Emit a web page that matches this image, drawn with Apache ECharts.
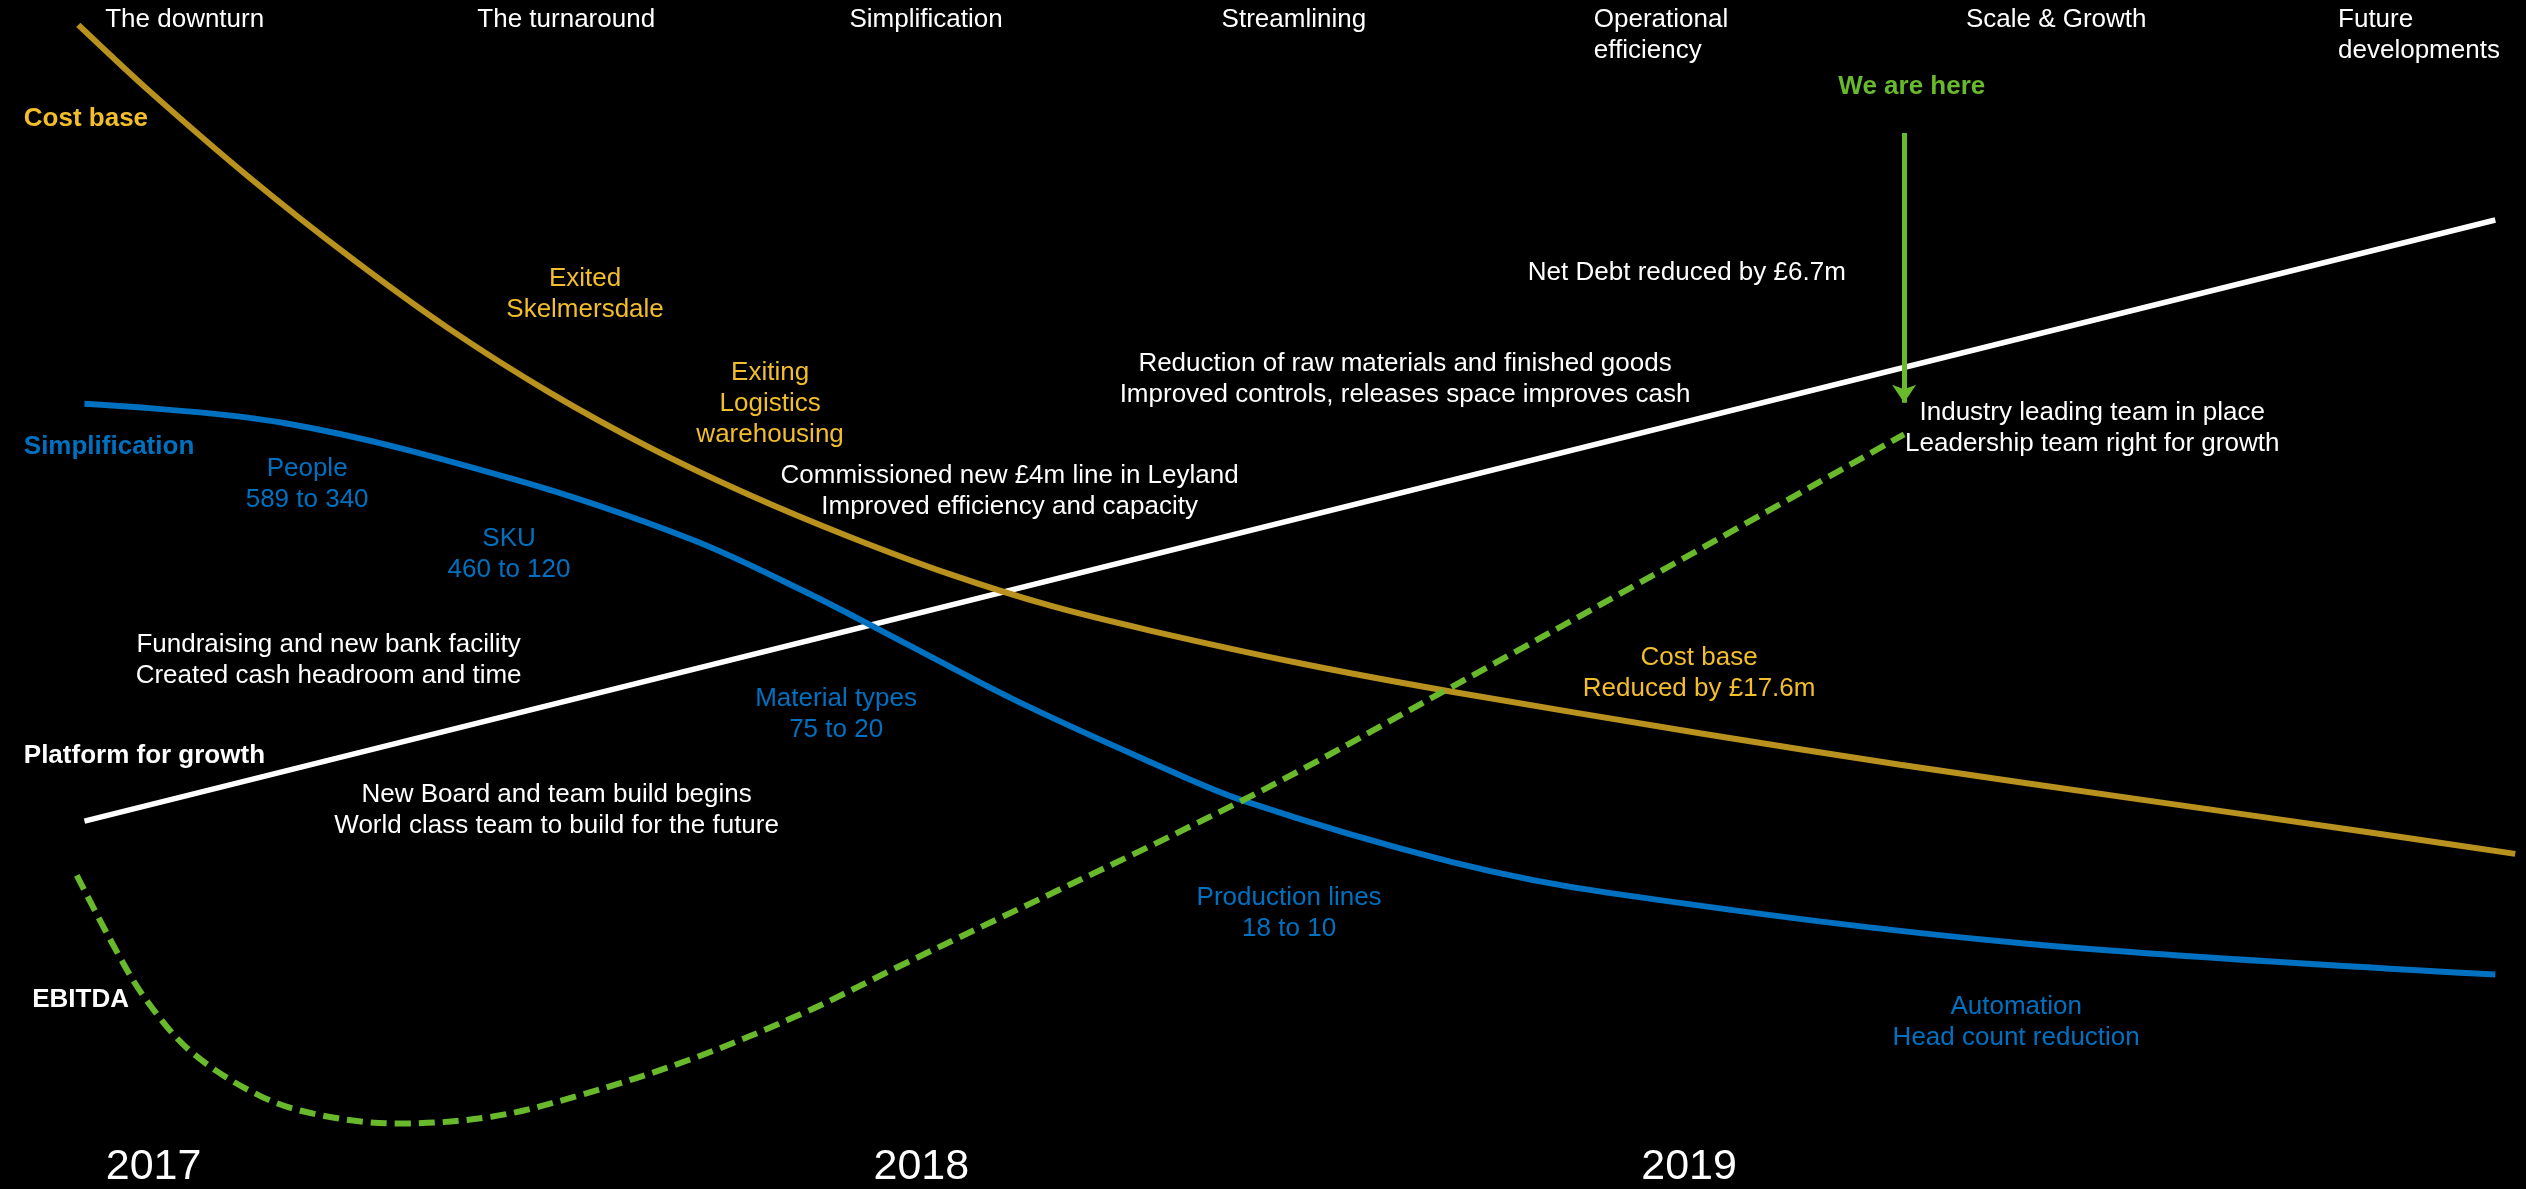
<!DOCTYPE html>
<html>
<head>
<meta charset="utf-8">
<title>Transformation journey</title>
<script src="https://cdn.jsdelivr.net/npm/echarts@6/dist/echarts.min.js"></script>
<style>
  html, body { margin: 0; padding: 0; background: #000; }
  #chart { width: 2526px; height: 1189px; }
</style>
</head>
<body>
<div id="chart"></div>
<script>
// Timeline: x in fractional years, y on a relative 0-100 index
const years = [2017, 2018, 2019];
const phases = ['The downturn', 'The turnaround', 'Simplification', 'Streamlining',
  'Operational\nefficiency', 'Scale & Growth', 'Future\ndevelopments'];

const costBase = [[2016.902, 97.8], [2016.995, 91.9], [2017.126, 84.2], [2017.256, 77.2],
  [2017.386, 70.8], [2017.516, 65.2], [2017.647, 60.3], [2017.777, 56.1], [2017.907, 52.4],
  [2018.037, 49.1], [2018.168, 46.3], [2018.298, 44.1], [2018.493, 41.2], [2018.689, 38.7],
  [2019.014, 35.0], [2019.275, 32.2], [2019.600, 29.0], [2019.887, 26.2], [2020.076, 24.3]];

const simplification = [[2016.91, 64.2], [2017.17, 62.5], [2017.47, 57.5], [2017.70, 52.2],
  [2017.85, 47.5], [2017.97, 43.3], [2018.12, 38.0], [2018.29, 32.7], [2018.42, 29.0],
  [2018.69, 23.6], [2018.90, 20.8], [2019.43, 16.4], [2020.05, 13.6]];

const platform = [[2016.91, 27.2], [2020.05, 80.5]];

const ebitda = [[2016.90, 22.4], [2016.95, 15.9], [2016.99, 11.4], [2017.05, 6.7],
  [2017.14, 2.8], [2017.22, 1.1], [2017.32, 0.4], [2017.44, 1.0], [2017.55, 2.8],
  [2017.70, 6.1], [2017.85, 10.3], [2017.97, 14.3], [2018.42, 29.1], [2018.68, 38.7],
  [2018.99, 50.4], [2019.28, 61.5]];

// "We are here" marker: time and the span of the arrow on the index scale
const nowYear = 2019.28;
const nowArrow = [88.2, 64.3];

// Colours
const GOLD_LINE = '#B8911E';
const GOLD_TEXT = '#F2BE2C';
const BLUE = '#0070C0';
const GREEN = '#69B92D';
const WHITE = '#FFFFFF';
const FONT = '"Liberation Sans", Arial, sans-serif';

// Phase headings sit on a top axis, evenly spaced
const phaseStart = 2016.937;
const phaseStep = 0.4847;
const phaseTicks = phases.map((_, i) => +(phaseStart + i * phaseStep).toFixed(4));

// Text notes placed in chart coordinates
const notes = [
  { text: 'Cost base', at: [2016.831, 89.5], color: GOLD_TEXT, bold: true, align: 'left' },
  { text: 'Simplification', at: [2016.831, 60.4], color: BLUE, bold: true, align: 'left' },
  { text: 'Platform for growth', at: [2016.831, 33.0], color: WHITE, bold: true, align: 'left' },
  { text: 'EBITDA', at: [2016.842, 11.4], color: WHITE, bold: true, align: 'left' },
  { text: 'We are here', at: [2019.29, 92.3], color: GREEN, bold: true },
  { text: 'Exited\nSkelmersdale', at: [2017.562, 73.9], color: GOLD_TEXT },
  { text: 'Exiting\nLogistics\nwarehousing', at: [2017.803, 64.2], color: GOLD_TEXT },
  { text: 'Commissioned new £4m line in Leyland\nImproved efficiency and capacity', at: [2018.115, 56.4], color: WHITE },
  { text: 'Reduction of raw materials and finished goods\nImproved controls, releases space improves cash', at: [2018.63, 66.4], color: WHITE },
  { text: 'Net Debt reduced by £6.7m', at: [2018.997, 75.8], color: WHITE },
  { text: 'Industry leading team in place\nLeadership team right for growth', at: [2019.525, 62.0], color: WHITE },
  { text: 'People\n589 to 340', at: [2017.20, 57.1], color: BLUE },
  { text: 'SKU\n460 to 120', at: [2017.463, 50.9], color: BLUE },
  { text: 'Fundraising and new bank facility\nCreated cash headroom and time', at: [2017.228, 41.5], color: WHITE },
  { text: 'Material types\n75 to 20', at: [2017.889, 36.7], color: BLUE },
  { text: 'New Board and team build begins\nWorld class team to build for the future', at: [2017.525, 28.2], color: WHITE },
  { text: 'Production lines\n18 to 10', at: [2018.479, 19.0], color: BLUE },
  { text: 'Automation\nHead count reduction', at: [2019.426, 9.4], color: BLUE },
  { text: 'Cost base\nReduced by £17.6m', at: [2019.013, 40.3], color: GOLD_TEXT }
];

const X_MIN = 2016.8, X_MAX = 2020.09;

const chart = echarts.init(document.getElementById('chart'), null, { renderer: 'canvas' });

function curve(name, data, color, extra) {
  return Object.assign({
    name: name,
    type: 'line',
    data: data,
    showSymbol: false,
    symbol: 'none',
    smooth: 0.35,
    clip: false,
    silent: true,
    lineStyle: { color: color, width: 6, cap: 'butt' },
    emphasis: { disabled: true }
  }, extra || {});
}

chart.setOption({
  backgroundColor: '#000000',
  animation: false,
  textStyle: { fontFamily: FONT },
  grid: { left: 0, right: 0, top: 0, bottom: 60, containLabel: false },
  xAxis: [
    {
      type: 'value', min: X_MIN, max: X_MAX, position: 'bottom',
      axisLine: { show: false }, axisTick: { show: false }, splitLine: { show: false },
      axisLabel: {
        customValues: years, margin: 18,
        color: WHITE, fontSize: 43, fontFamily: FONT,
        formatter: v => String(Math.round(v))
      }
    },
    {
      type: 'value', min: X_MIN, max: X_MAX, position: 'top',
      axisLine: { show: false }, axisTick: { show: false }, splitLine: { show: false },
      axisLabel: {
        customValues: phaseTicks, inside: true, margin: 4,
        align: 'left', verticalAlign: 'top', lineHeight: 31,
        color: WHITE, fontSize: 26, fontFamily: FONT,
        formatter: v => phases[Math.round((v - phaseStart) / phaseStep)]
      }
    }
  ],
  yAxis: { type: 'value', min: 0, max: 100, show: false },
  series: [
    curve('Platform for growth', platform, WHITE, { smooth: false, lineStyle: { color: WHITE, width: 5.5 } }),
    curve('Cost base', costBase, GOLD_LINE, { smooth: 0.3 }),
    curve('Simplification', simplification, BLUE),
    curve('EBITDA', ebitda, GREEN, {
      lineStyle: { color: GREEN, width: 6, type: [16, 8], cap: 'butt' },
      markLine: {
        silent: true,
        symbol: ['none', 'arrow'],
        symbolSize: [18, 18],
        label: { show: false },
        lineStyle: { color: GREEN, width: 5, type: 'solid' },
        data: [[{ coord: [nowYear, nowArrow[0]] }, { coord: [nowYear, nowArrow[1]] }]]
      }
    }),
    {
      name: 'notes',
      type: 'scatter',
      silent: true,
      symbolSize: 1,
      itemStyle: { color: 'rgba(0,0,0,0)', opacity: 1 },
      emphasis: { disabled: true },
      data: notes.map(n => ({
        name: n.text,
        value: n.at,
        label: {
          show: true,
          position: 'inside',
          formatter: '{b}',
          color: n.color,
          opacity: 1,
          fontSize: 26,
          lineHeight: 31,
          fontFamily: FONT,
          fontWeight: n.bold ? 'bold' : 'normal',
          align: n.align || 'center',
          verticalAlign: 'middle'
        }
      }))
    }
  ]
});
</script>
</body>
</html>
